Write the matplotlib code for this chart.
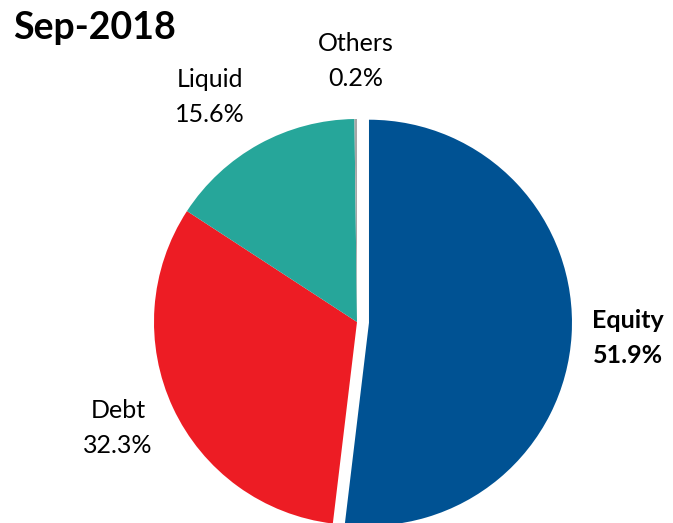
import matplotlib.pyplot as plt

labels = ["Equity", "Debt", "Liquid", "Others"]
shares = [51.9, 32.3, 15.6, 0.2]
colors = ["#005293", "#ED1C24", "#26A69A", "#A6A6A6"]

# label anchor points in pixels (x, y from top), and weight
label_pos = [(628, 338), (118, 428), (210, 97), (356, 61)]
label_bold = [True, False, False, False]

W, H = 673, 523
plt.rcParams['font.family'] = ['Lato', 'DejaVu Sans']

fig = plt.figure(figsize=(W / 100, H / 100), dpi=100)
ax = fig.add_axes([0, 0, 1, 1])

# explode is in data units here (pixels), equity slice pulled out
ax.pie(shares, colors=colors, explode=[12, 0, 0, 0], startangle=90,
       counterclock=False, center=(357, H - 322), radius=203,
       wedgeprops=dict(linewidth=0))

ax.set_xlim(0, W)
ax.set_ylim(0, H)
ax.set_aspect('equal')
ax.axis('off')

for name, val, (x, y), bold in zip(labels, shares, label_pos, label_bold):
    ax.text(x, H - y, f"{name}\n{val:.1f}%", ha='center', va='center',
            fontsize=18, linespacing=1.6,
            fontweight='bold' if bold else 'normal', color='black')

ax.text(13, H - 28, "Sep-2018", ha='left', va='center',
        fontsize=27, fontweight='bold', color='black')

fig.savefig("out.png", dpi=100)
